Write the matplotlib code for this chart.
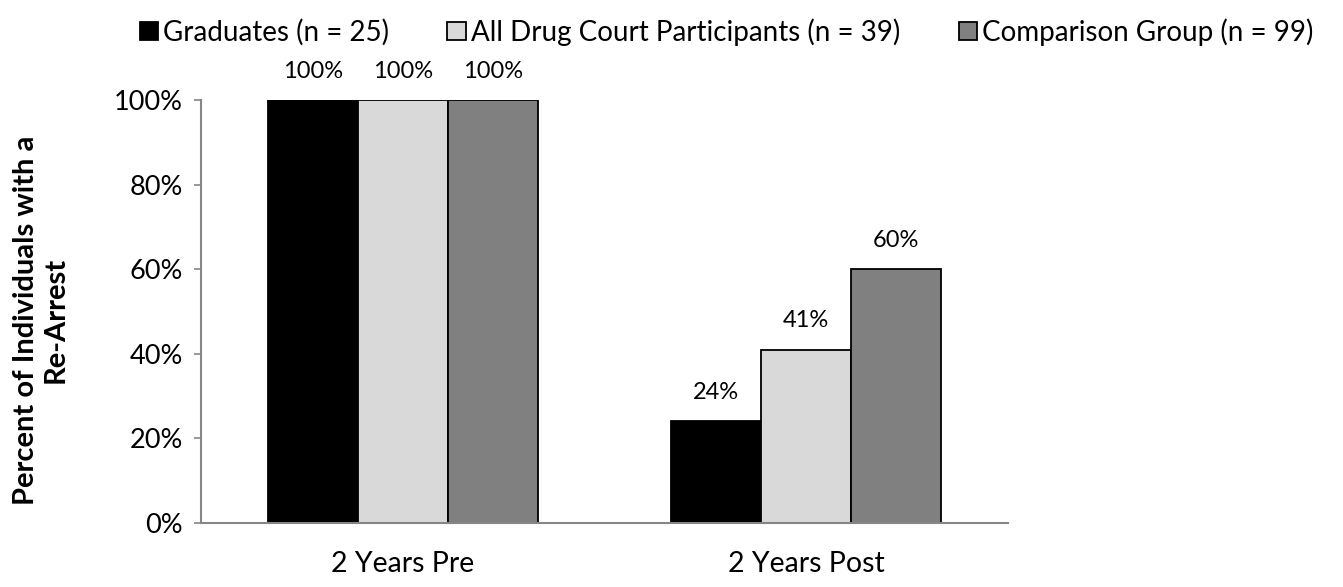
import numpy as np
import matplotlib
matplotlib.use("Agg")
import matplotlib.pyplot as plt
from matplotlib.ticker import PercentFormatter

plt.rcParams['font.family'] = ['Lato', 'DejaVu Sans']

# dati
categories = ["2 Years Pre", "2 Years Post"]
series_names = ["Graduates (n = 25)", "All Drug Court Participants (n = 39)",
                "Comparison Group (n = 99)"]
graduates = [100, 24]
all_participants = [100, 41]
comparison = [100, 60]
colors = ["#000000", "#D9D9D9", "#808080"]

values = [graduates, all_participants, comparison]

fig = plt.figure(figsize=(13.43, 5.87), dpi=100)
ax = fig.add_axes([0.1497, 0.109, 0.6009, 0.7206])

x = np.arange(len(categories))
width = 0.223

for i, (vals, name, col) in enumerate(zip(values, series_names, colors)):
    pos = x + (i - 1) * width
    bars = ax.bar(pos, vals, width, color=col, edgecolor='black', linewidth=1.3,
                  label=name, zorder=2)
    for b, v in zip(bars, vals):
        ax.text(b.get_x() + b.get_width() / 2, v + 4.3, f"{v}%", ha='center',
                va='bottom', fontsize=17)

ax.set_xlim(-0.5, 1.5)
ax.set_ylim(0, 100)
ax.set_yticks([0, 20, 40, 60, 80, 100])
ax.yaxis.set_major_formatter(PercentFormatter(decimals=0))
ax.set_xticks(x)
ax.set_xticklabels(categories, fontsize=20.5)
ax.tick_params(axis='x', length=0, pad=20)
ax.tick_params(axis='y', labelsize=19.5, length=5, width=1.2, color='#868686', pad=8)

for s in ['top', 'right']:
    ax.spines[s].set_visible(False)
for s in ['left', 'bottom']:
    ax.spines[s].set_color('#868686')
    ax.spines[s].set_linewidth(1.5)

# etichetta asse y come testo della figura, per posizionarla a mano
fig.text(41 / 1343, 1 - 320 / 587, "Percent of Individuals with a\nRe-Arrest",
         rotation=90, ha='center', va='center', fontsize=21, fontweight='bold',
         linespacing=1.2)

fig.legend(loc='upper center', bbox_to_anchor=(0.541, 1.012), ncol=3, frameon=False,
           fontsize=20, handlelength=0.65, handleheight=0.65, handletextpad=0.2,
           columnspacing=2.1)

fig.savefig("out.png", dpi=100)
